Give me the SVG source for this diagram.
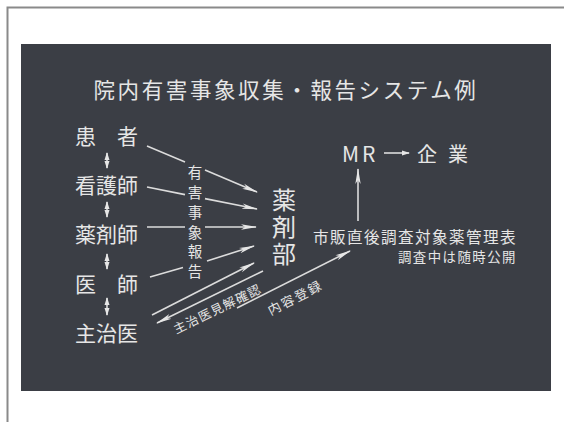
<svg xmlns="http://www.w3.org/2000/svg" width="564" height="422" viewBox="0 0 564 422">
<style>
.t{font-family:"Noto Sans CJK JP","Noto Sans CJK SC",sans-serif;fill:#e6e6e6;dominant-baseline:central}
.v{font-family:"Noto Sans CJK JP","Noto Sans CJK SC",sans-serif;fill:#e6e6e6;writing-mode:vertical-rl}
.ln{stroke:#dcdcdc;stroke-width:1.6;fill:none}
</style>
<defs>
<marker id="ah" markerUnits="userSpaceOnUse" markerWidth="16" markerHeight="7" refX="15" refY="3.5" orient="auto">
<path d="M0,0.8 L16,3.5 L0,6.2 L4,3.5 Z" fill="#e6e6e6"/>
</marker>
<marker id="sh" markerUnits="userSpaceOnUse" markerWidth="8" markerHeight="6" refX="7" refY="3" orient="auto-start-reverse">
<path d="M0,0.5 L8,3 L0,5.5 Z" fill="#e6e6e6"/>
</marker>
</defs>
<rect width="564" height="422" fill="#ffffff"/>
<path d="M7.5,422 V7.5 H564" fill="none" stroke="#8a8a8a" stroke-width="2"/>
<rect x="21" y="44" width="530" height="347" fill="#3b3e45"/>

<g id="title"><text class="t" x="286" y="88" font-size="21.5" text-anchor="middle" letter-spacing="2.6">院内有害事象収集・報告システム例</text></g>

<g id="kanja"><text class="t" x="75 117" y="135" font-size="21">患者</text></g>
<g id="kangoshi"><text class="t" x="75" y="184" font-size="21">看護師</text></g>
<g id="yakuzaishi"><text class="t" x="75" y="233" font-size="21">薬剤師</text></g>
<g id="ishi"><text class="t" x="75 117" y="283" font-size="21">医師</text></g>
<g id="shujii"><text class="t" x="75" y="332" font-size="21">主治医</text></g>

<g id="yakuzaibu"><text class="v" x="284" y="188" font-size="24" letter-spacing="3">薬剤部</text></g>

<g id="label-yugai"><text class="v" x="195" y="165.5" font-size="14.5" letter-spacing="5.3">有害事象報告</text></g>

<g id="mr"><text class="t" x="342" y="153" font-size="21">M</text><text class="t" x="362" y="153" font-size="21">R</text><text class="t" x="417" y="153" font-size="20">企</text><text class="t" x="448" y="153" font-size="20">業</text></g>

<g id="kanrihyo"><text class="t" x="517" y="235.5" font-size="15.6" text-anchor="end" letter-spacing="1.4">市販直後調査対象薬管理表</text><text class="t" x="517" y="256" font-size="13.4" text-anchor="end" letter-spacing="1.5">調査中は随時公開</text></g>

<g id="connectors">
<line class="ln" x1="107" y1="153" x2="107" y2="168" marker-start="url(#sh)" marker-end="url(#sh)"/>
<line class="ln" x1="107" y1="202" x2="107" y2="217" marker-start="url(#sh)" marker-end="url(#sh)"/>
<line class="ln" x1="107" y1="254" x2="107" y2="269" marker-start="url(#sh)" marker-end="url(#sh)"/>
<line class="ln" x1="107" y1="298" x2="107" y2="315" marker-start="url(#sh)" marker-end="url(#sh)"/>

<line class="ln" x1="147" y1="146" x2="185" y2="162"/>
<line class="ln" x1="205" y1="170" x2="257" y2="192" marker-end="url(#ah)"/>
<line class="ln" x1="147" y1="187" x2="185" y2="194.6"/>
<line class="ln" x1="205" y1="198.6" x2="257" y2="209" marker-end="url(#ah)"/>
<line class="ln" x1="147" y1="227" x2="185" y2="227"/>
<line class="ln" x1="205" y1="227" x2="256" y2="227" marker-end="url(#ah)"/>
<line class="ln" x1="150" y1="277" x2="183" y2="267.5"/>
<line class="ln" x1="207" y1="261" x2="254" y2="246" marker-end="url(#ah)"/>

<line class="ln" x1="152" y1="315" x2="254" y2="263" marker-end="url(#ah)"/>
<line class="ln" x1="263" y1="271" x2="157" y2="323" marker-end="url(#ah)"/>
<line class="ln" x1="237" y1="308" x2="350" y2="251" marker-end="url(#ah)"/>

<line class="ln" x1="358" y1="221" x2="358" y2="169" marker-end="url(#ah)"/>
<line class="ln" x1="384" y1="153" x2="409" y2="153" stroke-width="2" marker-end="url(#sh)"/>
</g>

<g id="label-shujii"><text class="t" x="217" y="308" font-size="12.5" text-anchor="middle" letter-spacing="1.2" transform="rotate(-26 217 308)">主治医見解確認</text></g>
<g id="label-naiyo"><text class="t" x="295" y="297" font-size="13" text-anchor="middle" letter-spacing="2" transform="rotate(-27 295 297)">内容登録</text></g>
</svg>
